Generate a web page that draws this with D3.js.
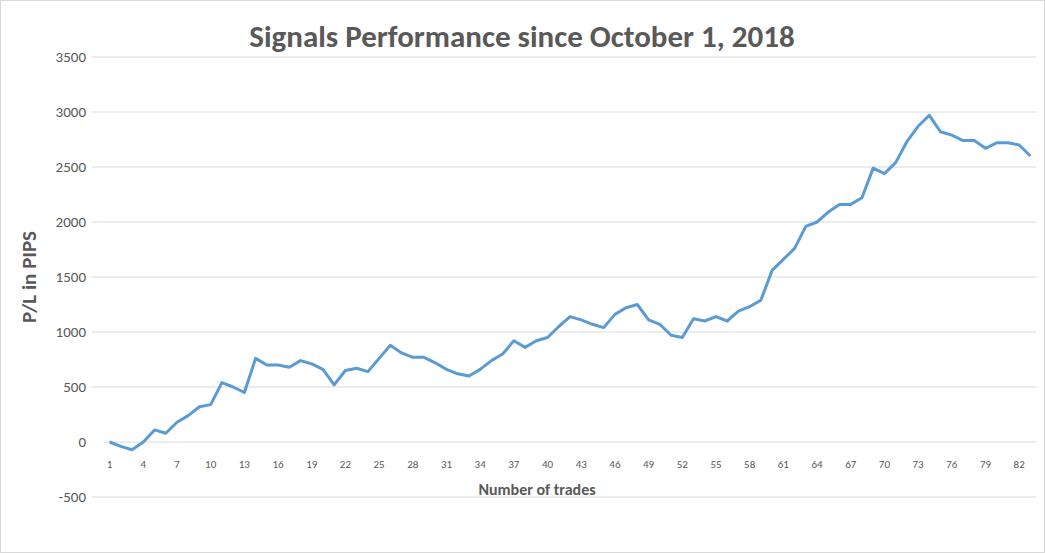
<!DOCTYPE html>
<html>
<head>
<meta charset="utf-8">
<script src="https://cdn.jsdelivr.net/npm/d3@7"></script>
<style>
  body { margin: 0; background: #fff; font-family: Calibri, "Liberation Sans", "Open Sans", sans-serif; }
</style>
</head>
<body>
<svg id="chart" width="1045" height="553"></svg>
<script>
// P/L per trade number
const plValues = [0, -40, -70, 0, 110, 80, 180, 240, 320, 340,
    540, 500, 450, 760, 700, 700, 680, 740, 710, 660,
    520, 650, 670, 640, 760, 880, 810, 770, 770, 720,
    660, 620, 600, 660, 740, 800, 920, 860, 920, 950,
    1050, 1140, 1110, 1070, 1040, 1160, 1220, 1250, 1110, 1070,
    970, 950, 1120, 1100, 1140, 1100, 1190, 1230, 1290, 1560,
    1660, 1760, 1960, 2000, 2090, 2160, 2160, 2220, 2490, 2440,
    2540, 2730, 2870, 2970, 2820, 2790, 2740, 2740, 2670, 2720,
    2720, 2700, 2600];
const trades = plValues.map((v, i) => i + 1);
const yTicks = [-500, 0, 500, 1000, 1500, 2000, 2500, 3000, 3500];

const svg = d3.select("#chart");
const textColor = "#595959";

svg.append("rect")
    .attr("x", 0.5).attr("y", 0.5)
    .attr("width", 1044).attr("height", 552)
    .attr("fill", "#fff").attr("stroke", "#d9d9d9");

const x = d3.scaleBand().domain(trades).range([104, 1036]);
const y = d3.scaleLinear().domain([-500, 3500]).range([497, 57]);

// gridlines
svg.append("g").selectAll("line")
    .data(yTicks.filter(t => t !== 0))
    .enter().append("line")
    .attr("x1", 92).attr("x2", 1036)
    .attr("y1", d => y(d)).attr("y2", d => y(d))
    .attr("stroke", "#d9d9d9").attr("stroke-width", 1);

// y tick labels
svg.append("g").selectAll("text")
    .data(yTicks)
    .enter().append("text")
    .attr("x", 86).attr("y", d => y(d))
    .attr("dy", "0.35em")
    .attr("text-anchor", "end")
    .attr("fill", textColor)
    .style("font-size", "15px")
    .text(d => d);

// zero axis line
svg.append("line")
    .attr("x1", 104).attr("x2", 1036)
    .attr("y1", y(0)).attr("y2", y(0))
    .attr("stroke", "#d9d9d9");

// x tick labels every 3rd trade
svg.append("g").selectAll("text")
    .data(trades.filter(t => (t - 1) % 3 === 0))
    .enter().append("text")
    .attr("x", d => x(d) + x.bandwidth() / 2)
    .attr("y", 468)
    .attr("text-anchor", "middle")
    .attr("fill", textColor)
    .style("font-size", "11px")
    .text(d => d);

const line = d3.line()
    .x((d, i) => x(trades[i]) + x.bandwidth() / 2)
    .y(d => y(d));

svg.append("path")
    .datum(plValues)
    .attr("d", line)
    .attr("fill", "none")
    .attr("stroke", "#5b9bd5")
    .attr("stroke-width", 3)
    .attr("stroke-linejoin", "round");

svg.append("text")
    .attr("x", 522).attr("y", 47)
    .attr("text-anchor", "middle")
    .attr("fill", textColor)
    .style("font-size", "31px").style("font-weight", "bold")
    .text("Signals Performance since October 1, 2018");

svg.append("text")
    .attr("x", 537).attr("y", 495)
    .attr("text-anchor", "middle")
    .attr("fill", textColor)
    .style("font-size", "16px").style("font-weight", "bold")
    .text("Number of trades");

svg.append("text")
    .attr("transform", "translate(36,277) rotate(-90)")
    .attr("text-anchor", "middle")
    .attr("fill", textColor)
    .style("font-size", "21px").style("font-weight", "bold")
    .text("P/L in PIPS");
</script>
</body>
</html>
